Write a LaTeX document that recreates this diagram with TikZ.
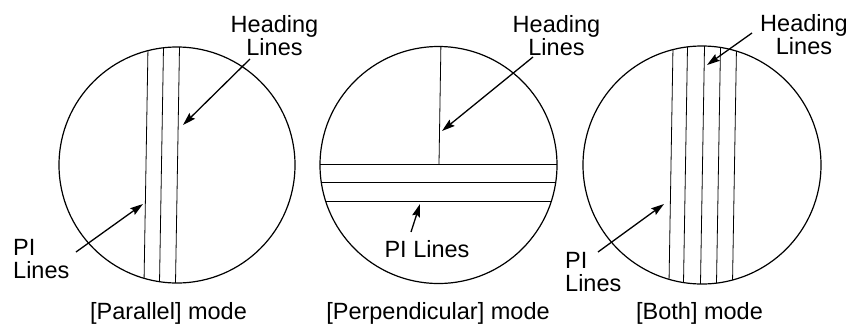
\documentclass[tikz,border=0pt]{standalone}
\usepackage{fontspec}
\setmainfont{Liberation Sans}
\usetikzlibrary{arrows.meta}

\begin{document}
\begin{tikzpicture}[x=1pt, y=-1pt,
      ring/.style={draw, line width=1.2pt},
      mline/.style={line width=0.8pt},
      ar/.style={-{Stealth[length=13pt, width=8pt, inset=2pt]}, line width=1.3pt},
      lbl/.style={font=\fontsize{23.5}{23}\selectfont, inner sep=0pt, align=center},
      lbll/.style={lbl, align=left, anchor=north west}]
    \useasboundingbox (0,0) rectangle (849,324);
    \coordinate (c1) at (177,165);
    \coordinate (c2) at (438.5,165);
    \coordinate (c3) at (702,165);
    % parallel
    \begin{scope}
      \clip (c1) circle[radius=118pt];
      \foreach \o in {-31,-15.5,0.5}
        \draw[mline] (177+\o-2.2,295) -- (177+\o+2.2,35);
    \end{scope}
    \draw[ring] (c1) circle[radius=118pt];
    % perpendicular
    \begin{scope}
      \clip (c2) circle[radius=118.5pt];
      \draw[mline] (441,40) -- (439,164);
      \foreach \y in {164,182,201}
        \draw[mline] (300,\y) -- (580,\y);
    \end{scope}
    \draw[ring] (c2) circle[radius=118.5pt];
    % both
    \begin{scope}
      \clip (c3) circle[radius=119pt];
      \foreach \o in {-31,-16.5,0.5,16.5,32.5}
        \draw[mline] (702+\o-2.2,295) -- (702+\o+2.2,35);
    \end{scope}
    \draw[ring] (c3) circle[radius=119pt];
    % labels
    \node[lbl, anchor=north] (hd1) at (274.5,15) {Heading\\Lines};
    \node[lbl, anchor=north] (hd2) at (556.5,15) {Heading\\Lines};
    \node[lbl, anchor=north] (hd3) at (804,14) {Heading\\Lines};
    \node[lbll] (pi1) at (13,239) {PI\\Lines};
    \node[lbl, anchor=north] (pi2) at (427,240) {PI Lines};
    \node[lbll] (pi3) at (565,252) {PI\\Lines};
    \node[lbl, anchor=north] (cap1) at (168.5,302) {[Parallel] mode};
    \node[lbl, anchor=north] (cap2) at (438,302) {[Perpendicular] mode};
    \node[lbl, anchor=north] (cap3) at (699.5,302) {[Both] mode};
    % arrows
    \coordinate (h1a) at (250,59);  \coordinate (h1b) at (183,125);
    \coordinate (p1a) at (76,252);  \coordinate (p1b) at (143,204);
    \coordinate (h2a) at (533,57);  \coordinate (h2b) at (442,131);
    \coordinate (p2a) at (411,232); \coordinate (p2b) at (420,204);
    \coordinate (h3a) at (752,33);  \coordinate (h3b) at (707,65);
    \coordinate (p3a) at (598,252); \coordinate (p3b) at (664,204);
    \draw[ar] (h1a) -- (h1b);
    \draw[ar] (p1a) -- (p1b);
    \draw[ar] (h2a) -- (h2b);
    \draw[ar] (p2a) -- (p2b);
    \draw[ar] (h3a) -- (h3b);
    \draw[ar] (p3a) -- (p3b);
  \end{tikzpicture}
\end{document}
